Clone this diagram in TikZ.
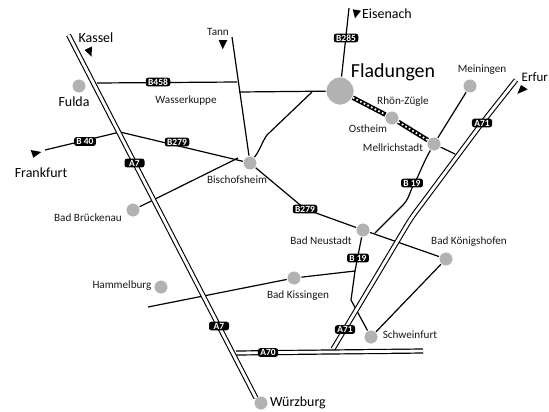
\documentclass[tikz,border=0pt]{standalone}
\usepackage{fontspec}
\setmainfont{Carlito}
\begin{document}
\begin{tikzpicture}[x=1bp,y=-1bp,
  road/.style={line width=1.2bp,black,line join=round},
  motorway/.style={double=white,draw=black,line width=1.1bp,double distance=2.9bp},
  city/.style={circle,fill=black!30,draw=white,line width=0.8bp,inner sep=0pt,minimum size=14bp},
  capital/.style={circle,fill=black!30,draw=white,line width=0.8bp,inner sep=0pt,minimum size=28bp},
  badge/.style={fill=black,text=white,rounded corners=2.5bp,inner xsep=2.4bp,inner ysep=1.3bp,font=\fontsize{9.5}{9.5}\selectfont\bfseries,text height=6.2bp,text depth=0bp},
  small/.style={text=black!90,inner sep=0pt,font=\fontsize{11.2}{11.2}\selectfont},
  big/.style={text=black,inner sep=0pt,font=\fontsize{14}{14}\selectfont},
  pointer/.style={fill=black,draw=none}]
\useasboundingbox (0,0) rectangle (549,411);
\fill[white] (0,0) rectangle (549,411);

% free road ends and bends
\coordinate (a7n) at (68.5,35);
\coordinate (a7s) at (256,398);
\coordinate (a71n) at (516,80);
\coordinate (a71s) at (333,349);
\coordinate (a70w) at (236,353);
\coordinate (a70e) at (423,351);
\coordinate (b458w) at (97,83);
\coordinate (b458e) at (237,82);
\coordinate (tannend) at (232,37);
\coordinate (junc) at (239,92);
\coordinate (diag) at (312,92);
\coordinate (diagb) at (267,135);
\coordinate (b40w) at (45,150);
\coordinate (b40e) at (120,132);
\coordinate (brj) at (238,158);
\coordinate (b279bend) at (305,209);
\coordinate (b285n) at (349,8);
\coordinate (kiss) at (148,307);
\coordinate (kisse) at (355,271);
\coordinate (nsa) at (351,300);
\coordinate (melle) at (455,154);
\coordinate (b19a) at (412,188);
\coordinate (b19b) at (403,205);
\coordinate (b19c) at (375,233);

% places
\node[city] (fulda) at (79,86) {};
\node[capital] (flad) at (340,91) {};
\node[city] (ost) at (392,118) {};
\node[city] (mell) at (434,144) {};
\node[city] (mein) at (470,86) {};
\node[city] (bisch) at (250,163) {};
\node[city] (bruck) at (133,210) {};
\node[city] (hamm) at (161,287) {};
\node[city] (kissi) at (294,278) {};
\node[city] (neu) at (363,230) {};
\node[city] (koen) at (446,259) {};
\node[city] (schw) at (371,337) {};
\node[city] (wurz) at (261,403) {};

% ordinary roads
\draw[road] (b458w) -- (b458e);
\draw[road] (tannend) -- (bisch);
\draw[road] (junc) -- (flad);
\draw[road] (diag) -- (diagb) .. controls (262,142) and (260,150) .. (bisch);
\draw[road] (b40w) -- (b40e) -- (bisch);
\draw[road] (bruck) -- (brj);
\draw[road] (bisch) -- (b279bend) -- (neu);
\draw[road] (neu) -- (koen);
\draw[road] (koen) -- (schw);
\draw[road] (flad) -- (b285n);
\draw[road] (mein) -- (mell);
\draw[road] (mell) -- (melle);
\draw[road] (mell) .. controls (422,165) and (418,178) .. (b19a) .. controls (409,195) and (408,200) .. (b19b) -- (b19c);
\draw[road] (neu) -- (kisse) -- (nsa) -- (schw);
\draw[road] (kiss) -- (kissi);
\draw[road] (kissi) -- (kisse);

% Rhoen-Zuegle railway
\draw[black,line width=4.6bp] (flad) -- (ost);
\draw[black,line width=4.6bp] (ost) -- (mell);
\draw[white,line width=1.7bp,dash pattern=on 1.7bp off 2.4bp] (flad) -- (ost);
\draw[white,line width=1.7bp,dash pattern=on 1.7bp off 2.4bp] (ost) -- (mell);

% motorways
\draw[motorway] (a7n) -- (a7s);
\draw[motorway] (a71n) -- (482,123) -- (421,205) .. controls (414,214) and (410,220) .. (407,225) -- (379,272) -- (a71s);
\draw[draw=black,line width=1.2bp,double=white,double distance=2.8bp] (a70w) -- (a70e);

% pointers
\fill[pointer] (84.5,50) -- (92,46.5) -- (91.5,56.5) -- cycle;
\fill[pointer] (218.7,40) -- (227.3,40) -- (222.7,49.3) -- cycle;
\fill[pointer] (30.7,150) -- (41.3,152) -- (33.3,157.7) -- cycle;
\fill[pointer] (352.7,9.3) -- (361,10.7) -- (355,18.3) -- cycle;
\fill[pointer] (521,85) -- (527.7,89.3) -- (517.3,94) -- cycle;

% road badges
\node[badge] (bB458) at (158,82) {B458};
\node[badge] (bB40) at (85,141.5) {B 40};
\node[badge] (bB279a) at (177,142) {B279};
\node[badge,minimum width=20bp] (bA7a) at (134.5,163) {A7};
\node[badge,minimum width=20bp] (bA7b) at (219,326) {A7};
\node[badge] (bB285) at (346,38) {B285};
\node[badge] (bA71a) at (482,123) {A71};
\node[badge] (bB19a) at (412,183) {B 19};
\node[badge] (bB279b) at (305,209) {B279};
\node[badge] (bB19b) at (358,258) {B 19};
\node[badge] (bA71b) at (345,329.5) {A71};
\node[badge] (bA70) at (268,352.5) {A70};

% labels
\node[big] (lKassel) at (96,38) {Kassel};
\node[big] (lFulda) at (74,102) {Fulda};
\node[big] (lFrank) at (41,173) {Frankfurt};
\node[big] (lEisen) at (387,14) {Eisenach};
\node[inner sep=0pt,text=black,font=\fontsize{13}{13}\selectfont,anchor=west] (lErf) at (521.5,77) {Erfur};
\node[big] (lWurz) at (298,403) {Würzburg};
\node[inner sep=0pt,text=black,font=\fontsize{20}{20}\selectfont] (lFlad) at (393,72) {Fladungen};
\node[small] (lTann) at (218,32) {Tann};
\node[small] (lWass) at (186,101) {Wasserkuppe};
\node[small] (lBisch) at (237,180) {Bischofsheim};
\node[small] (lMein) at (482,70) {Meiningen};
\node[small] (lRhoen) at (403,102) {Rhön-Zügle};
\node[small] (lOst) at (368,129) {Ostheim};
\node[small] (lMell) at (393,148) {Mellrichstadt};
\node[small] (lBruck) at (88,218) {Bad Brückenau};
\node[small] (lHamm) at (122,286) {Hammelburg};
\node[small] (lKiss) at (298,296) {Bad Kissingen};
\node[small] (lNeu) at (321,241) {Bad Neustadt};
\node[small] (lKoen) at (469,242) {Bad Königshofen};
\node[small] (lSchw) at (410,335) {Schweinfurt};
\end{tikzpicture}
\end{document}
